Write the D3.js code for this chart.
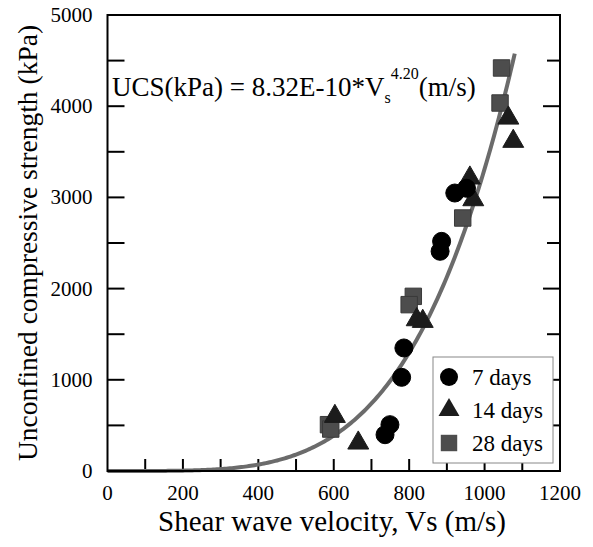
<!DOCTYPE html>
<html>
<head>
<meta charset="utf-8">
<script src="https://cdn.jsdelivr.net/npm/d3@7"></script>
<style>
  body { margin: 0; background: #fff; }
  text { font-family: "Liberation Serif", "DejaVu Serif", serif; }
</style>
</head>
<body>
<div id="chart"></div>
<script>
// data (Vs in m/s, UCS in kPa)
const days7Vs = [921, 952, 886, 882, 786, 780, 749, 736];
const days7Ucs = [3048, 3100, 2518, 2409, 1349, 1027, 508, 398];
const days14Vs = [961, 970, 1063, 1076, 820, 836, 603, 665];
const days14Ucs = [3213, 2975, 3870, 3615, 1659, 1641, 599, 307];
const days28Vs = [1045, 1041, 942, 811, 800, 586, 592];
const days28Ucs = [4419, 4035, 2774, 1915, 1824, 508, 460];
const xTicks = [0, 200, 400, 600, 800, 1000, 1200];
const yTicks = [0, 1000, 2000, 3000, 4000, 5000];
// fitted power law shown in the chart
const fitA = 8.32e-10;
const fitB = 4.20;
const fitMaxVs = 1080;

const serif = "'Liberation Serif', 'Times New Roman', 'DejaVu Serif', serif";
const width = 593, height = 547;
const margin = { left: 107.5, right: 33, top: 15, bottom: 76 };

const svg = d3.select("#chart").append("svg")
  .attr("width", width)
  .attr("height", height)
  .attr("font-family", serif);

const x = d3.scaleLinear().domain([0, 1200]).range([margin.left, width - margin.right]);
const y = d3.scaleLinear().domain([0, 5000]).range([height - margin.bottom, margin.top]);

const x0 = x(0), x1 = x(1200), y0 = y(0), y1 = y(5000);

// ticks (inward)
const g = svg.append("g").attr("stroke", "#000").attr("stroke-width", 2);
d3.range(100, 1200, 100).forEach((v) => {
  g.append("line").attr("x1", x(v)).attr("x2", x(v)).attr("y1", y0).attr("y2", y0 - 12);
});
d3.range(500, 5000, 500).forEach((v) => {
  const len = v % 1000 === 0 ? 17 : 13;
  g.append("line").attr("x1", x0).attr("x2", x0 + 17).attr("y1", y(v)).attr("y2", y(v));
  g.append("line").attr("x1", x1).attr("x2", x1 - len).attr("y1", y(v)).attr("y2", y(v));
});

// fit curve
const fitVs = d3.range(0, fitMaxVs + 1, 5);
const line = d3.line()
  .x((v) => x(v))
  .y((v) => y(fitA * Math.pow(v, fitB)));
svg.append("path")
  .datum(fitVs)
  .attr("d", line)
  .attr("fill", "none")
  .attr("stroke", "#6b6b6b")
  .attr("stroke-width", 4);

// frame
svg.append("rect")
  .attr("x", x0).attr("y", y1)
  .attr("width", x1 - x0).attr("height", y0 - y1)
  .attr("fill", "none")
  .attr("stroke", "#000")
  .attr("stroke-width", 2);

// markers
const circleSym = d3.symbol().type(d3.symbolCircle).size(255);
const triSym = d3.symbol().type(d3.symbolTriangle).size(190);
const sqSym = d3.symbol().type(d3.symbolSquare).size(270);

const drawSet = (vs, ucs, sym, fill, stroke) => {
  svg.append("g").selectAll("path")
    .data(vs.map((v, i) => [v, ucs[i]]))
    .join("path")
    .attr("d", sym)
    .attr("transform", (d) => `translate(${x(d[0])},${y(d[1])})`)
    .attr("fill", fill)
    .attr("stroke", stroke)
    .attr("stroke-width", 1);
};
drawSet(days28Vs, days28Ucs, sqSym, "#4d4d4d", "#3a3a3a");
drawSet(days14Vs, days14Ucs, triSym, "#1c1c1c", "#1c1c1c");
drawSet(days7Vs, days7Ucs, circleSym, "#000", "#000");

// tick labels
svg.append("g").selectAll("text")
  .data(xTicks)
  .join("text")
  .attr("x", (d) => x(d))
  .attr("y", y0 + 29)
  .attr("text-anchor", "middle")
  .attr("font-family", serif)
  .attr("font-size", 21)
  .text((d) => d);

svg.append("g").selectAll("text")
  .data(yTicks)
  .join("text")
  .attr("x", x0 - 15)
  .attr("y", (d) => y(d) + 7)
  .attr("text-anchor", "end")
  .attr("font-family", serif)
  .attr("font-size", 21)
  .text((d) => d);

// axis titles
svg.append("text")
  .attr("x", 332)
  .attr("y", 531)
  .attr("text-anchor", "middle")
  .attr("font-family", serif)
  .attr("font-size", 29)
  .text("Shear wave velocity, Vs (m/s)");

svg.append("text")
  .attr("transform", `translate(37,${(y0 + y1) / 2}) rotate(-90)`)
  .attr("text-anchor", "middle")
  .attr("font-family", serif)
  .attr("font-size", 27.5)
  .text("Unconfined compressive strength (kPa)");

// equation
const eq = svg.append("text")
  .attr("x", 112)
  .attr("y", 96)
  .attr("font-family", serif)
  .attr("font-size", 27);
eq.append("tspan").text("UCS(kPa) = 8.32E-10*V");
eq.append("tspan").attr("font-size", 16).attr("dy", 7).text("s");
eq.append("tspan").attr("font-size", 16).attr("dy", -24).text("4.20");
eq.append("tspan").attr("dy", 17).text("(m/s)");

// legend
const legend = svg.append("g");
legend.append("rect")
  .attr("x", 433).attr("y", 357)
  .attr("width", 120).attr("height", 106)
  .attr("fill", "#fff")
  .attr("stroke", "#888")
  .attr("stroke-width", 1);
const legendItems = [
  { label: "7 days", sym: circleSym, fill: "#000" },
  { label: "14 days", sym: triSym, fill: "#1c1c1c" },
  { label: "28 days", sym: sqSym, fill: "#4d4d4d" },
];
legendItems.forEach((d, i) => {
  const cy = 377 + i * 33;
  legend.append("path")
    .attr("d", d.sym)
    .attr("transform", `translate(449,${cy})`)
    .attr("fill", d.fill);
  legend.append("text")
    .attr("x", 472)
    .attr("y", cy + 8)
    .attr("font-family", serif)
    .attr("font-size", 23)
    .text(d.label);
});
</script>
</body>
</html>
